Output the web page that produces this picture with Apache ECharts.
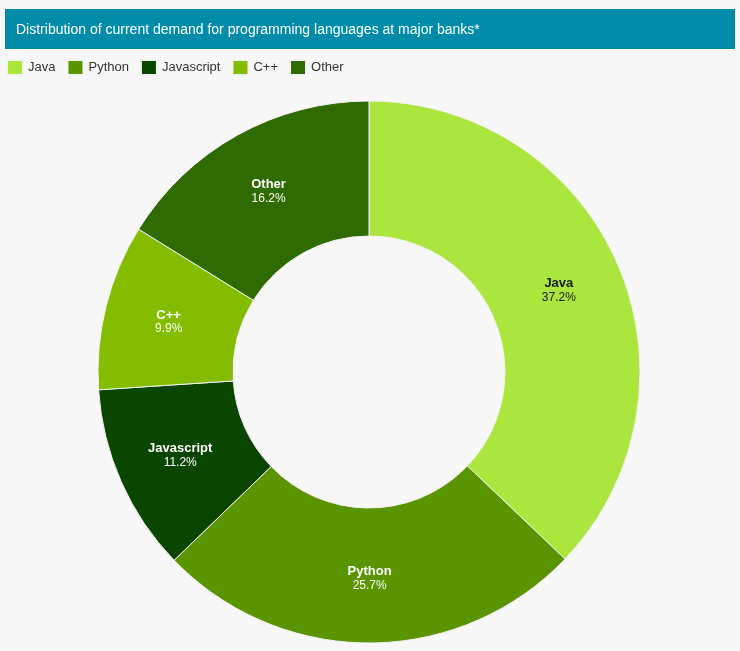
<!DOCTYPE html>
<html><head><meta charset="utf-8">
<script src="https://cdn.jsdelivr.net/npm/echarts@6/dist/echarts.min.js"></script>
<style>html,body{margin:0;padding:0;background:#f7f7f7;}#c{width:740px;height:651px;}</style>
</head><body><div id="c"></div>
<script>
const titleText = 'Distribution of current demand for programming languages at major banks*';
const categories = ['Java', 'Python', 'Javascript', 'C++', 'Other'];
const values = [37.2, 25.7, 11.2, 9.9, 16.2];
const colors = ['#abe63f', '#5a9400', '#0a4600', '#84bd00', '#2f6b00'];
const labelColors = ['#1a1a1a', '#ffffff', '#ffffff', '#ffffff', '#ffffff'];

const chart = echarts.init(document.getElementById('c'));
chart.setOption({
  backgroundColor: '#f7f7f7',
  textStyle: {fontFamily: 'Liberation Sans, Arial, sans-serif'},
  graphic: [{type: 'rect', left: 5, top: 9, shape: {width: 730, height: 40}, style: {fill: '#008ba8'}}],
  title: {text: titleText, left: 11, top: 18, textStyle: {color: '#ffffff', fontSize: 14, fontWeight: 'normal', fontFamily: 'Liberation Sans, Arial, sans-serif'}},
  legend: {
    data: categories, left: 6, top: 59, padding: 0, itemWidth: 16, itemHeight: 15, itemGap: 11, icon: 'rect',
    textStyle: {color: '#333333', fontSize: 13, fontFamily: 'Liberation Sans, Arial, sans-serif'}
  },
  series: [{
    type: 'pie', center: [369, 372], radius: [136, 271], startAngle: 90, clockwise: true,
    avoidLabelOverlap: false,
    itemStyle: {borderColor: '#f2f2f2', borderWidth: 1},
    emphasis: {scale: false},
    label: {
      show: true, position: 'inside', formatter: '{n|{b}}\n{c}%', fontSize: 12, lineHeight: 14,
      fontFamily: 'Liberation Sans, Arial, sans-serif'
    },
    data: categories.map((n, i) => ({
      name: n, value: values[i],
      itemStyle: {color: colors[i]},
      label: {color: labelColors[i], rich: {n: {color: labelColors[i], fontWeight: 'bold', fontSize: 13, lineHeight: 14}}}
    }))
  }]
});
</script></body></html>
